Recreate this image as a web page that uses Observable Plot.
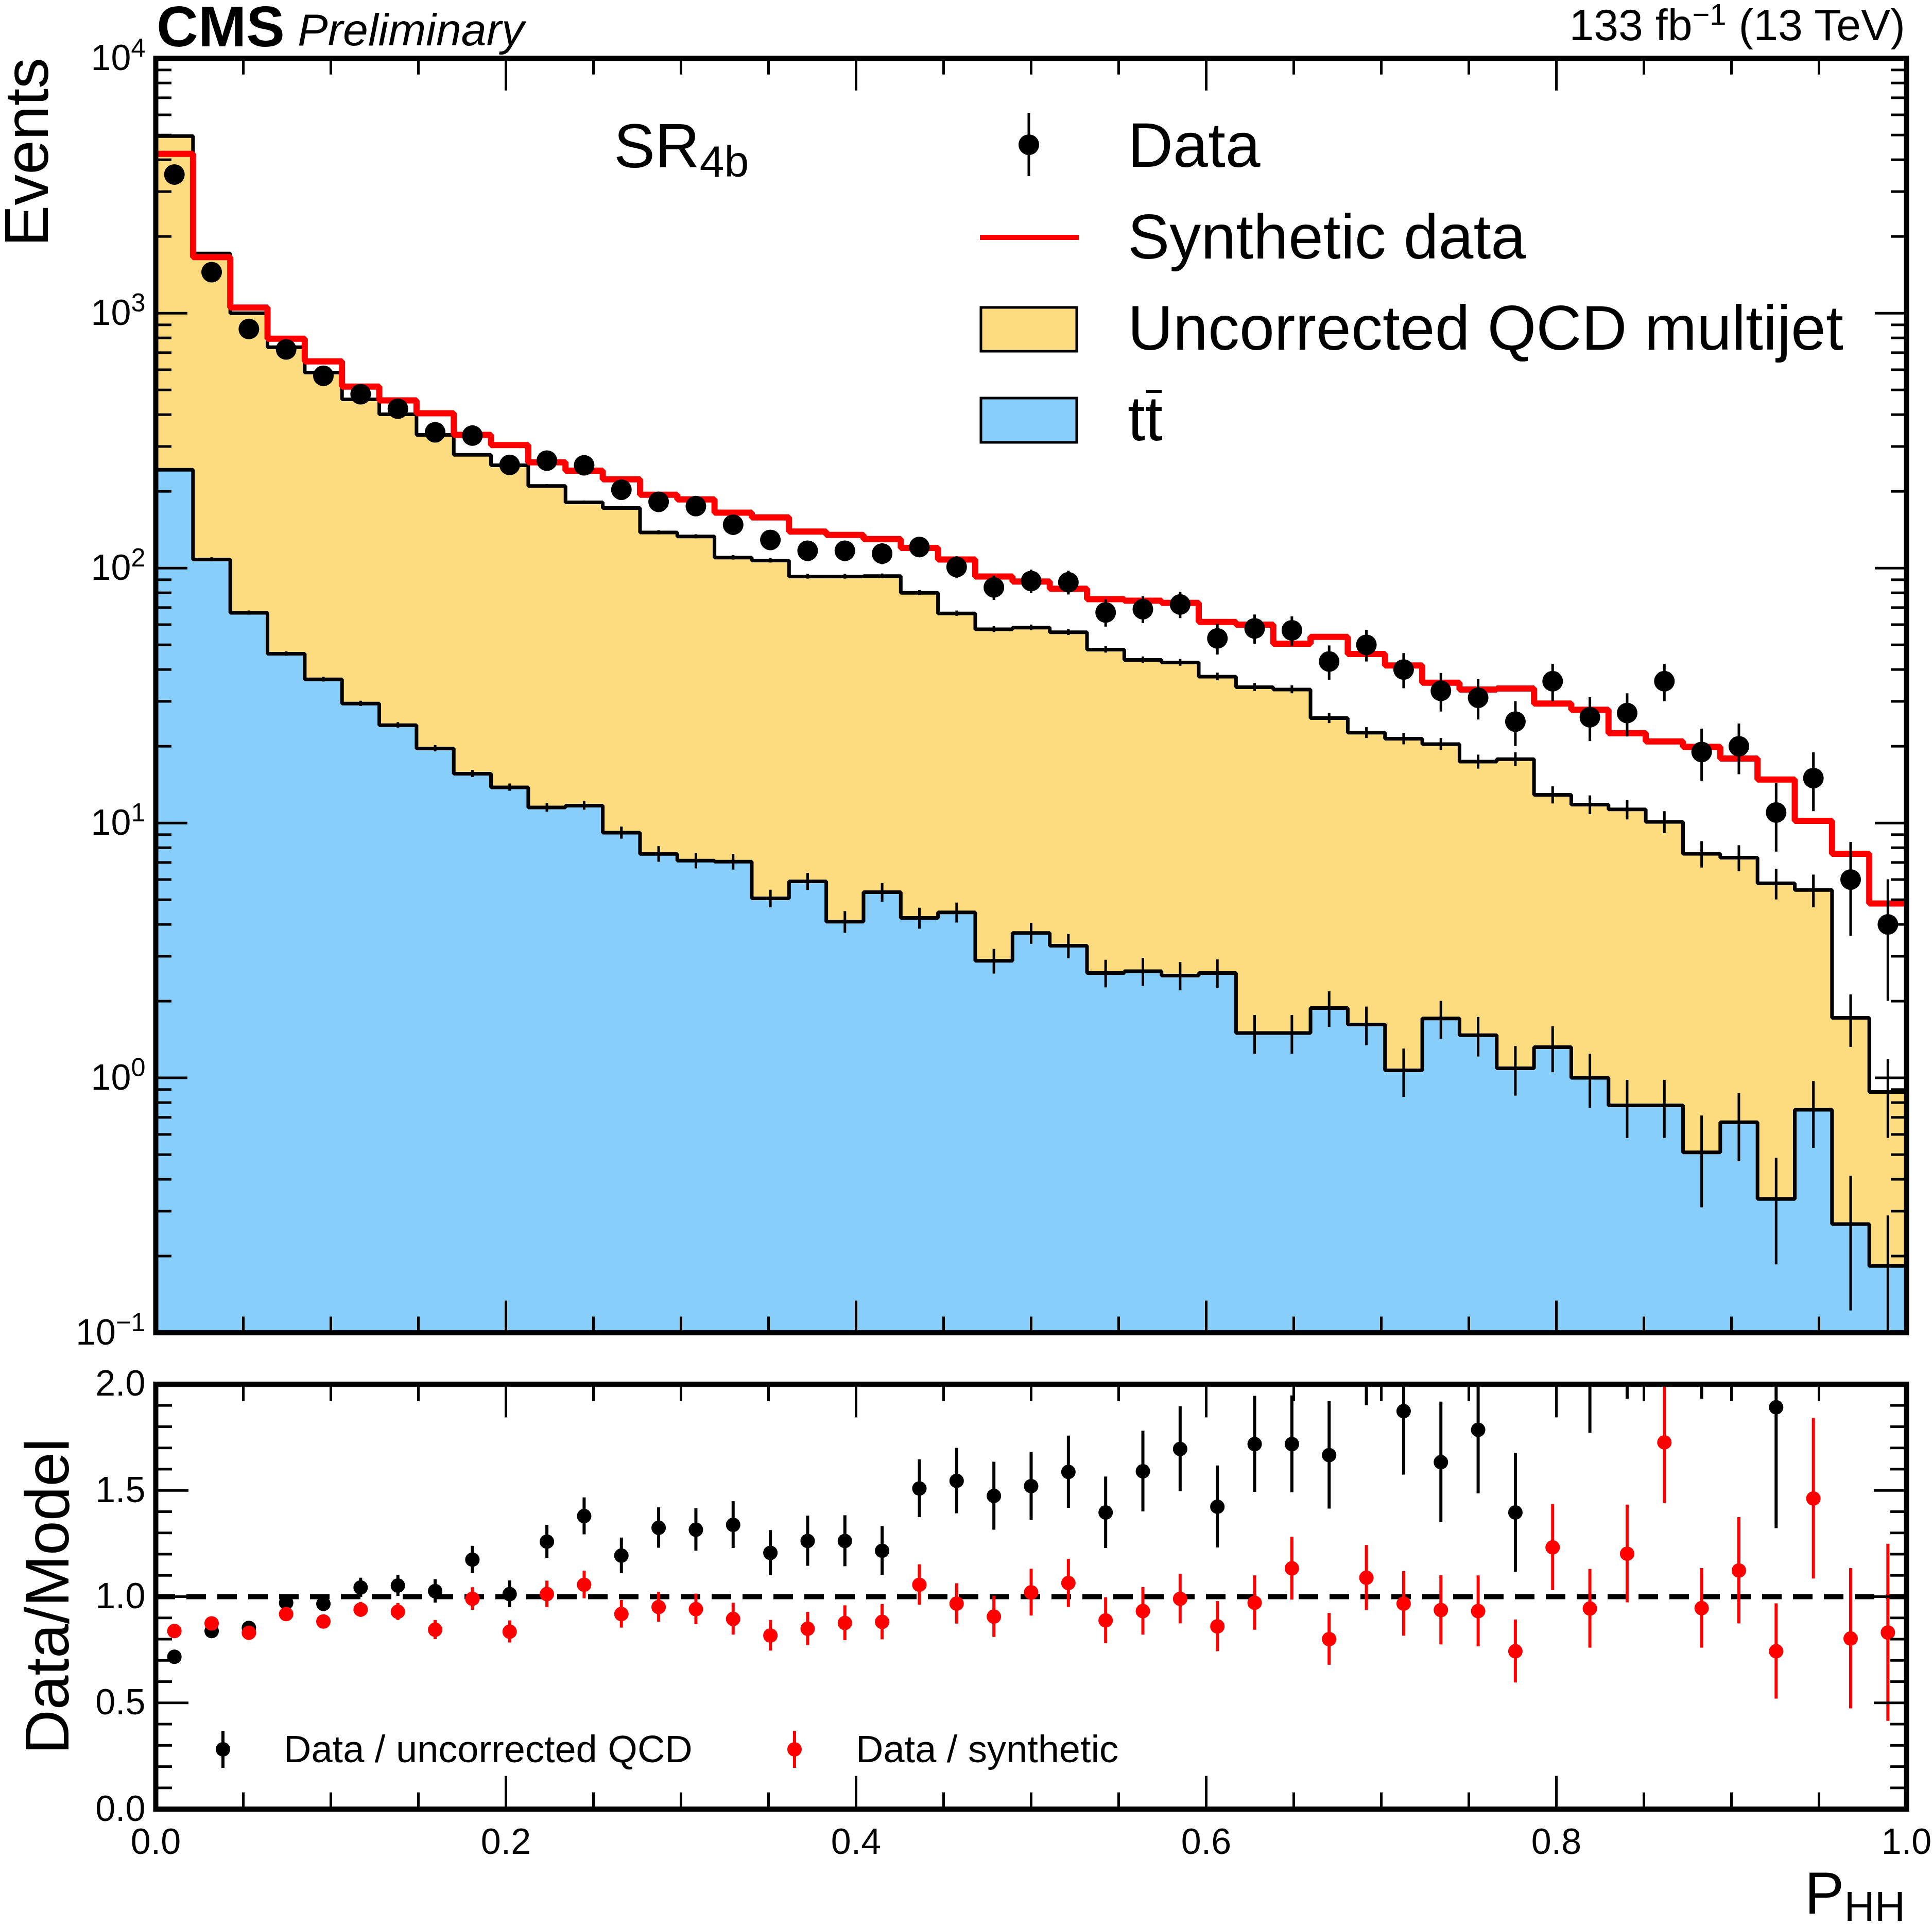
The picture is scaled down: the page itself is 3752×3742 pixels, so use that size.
<!DOCTYPE html>
<html><head><meta charset="utf-8">
<script src="https://cdn.jsdelivr.net/npm/d3@7"></script>
<script src="https://cdn.jsdelivr.net/npm/@observablehq/plot@0.6"></script>
<style>
html,body{margin:0;padding:0;background:#fff;}
#fig{position:relative;width:3752px;height:3742px;background:#fff;overflow:hidden;}
#fig svg{position:absolute;left:0;}
</style></head><body><div id="fig"></div>
<script>
// ---------------- DATA (47 uniform bins in P_HH from 0 to 1) ----------------
const dataCounts = [3500,1449,867,721,568,481,422,341,331,254,264,253,203,182,175,148,129,117,117,114,121,101,84,89,88,67,69,72,53,58,57,43,50,40,33,31,25,36,26,27,36,19,20,11,15,6,4];
const dataErr = [59.2,38.1,29.4,26.9,23.8,21.9,20.5,18.5,18.2,15.9,16.2,15.9,14.2,13.5,13.2,12.2,11.4,10.8,10.8,10.7,11.0,10.0,9.2,9.4,9.4,8.2,8.3,8.5,7.3,7.6,7.5,6.6,7.1,6.3,5.7,5.6,5.0,6.0,5.1,5.2,6.0,4.4,4.5,3.3,3.9,2.4,2.0];
// stack total: uncorrected QCD multijet + ttbar
const qcdTotal = [4955,1714,1000,735,585,459,401,333,278,253,210,181,172,138,133,110,107,92.7,92.7,93,80,66.4,57.5,58.4,56,47.9,43.6,42.6,37.5,34.1,33.4,25.8,22.6,21.4,20.4,17.4,17.8,12.9,11.8,11.3,10.1,7.57,7.31,5.8,5.46,1.72,0.88];
const qcdTotalErr = [40,15,8,6,5,4,3.5,3,2.5,2.3,3,2.8,2.7,2.5,2.4,2.2,2.1,2,2,2,1.8,1.6,1.5,1.5,1.5,1.4,1.3,1.3,1.3,1.2,1.2,1.2,1.1,1.1,1.1,1.1,1.1,1.0,1.0,1.0,1.0,0.9,0.85,0.8,0.8,0.4,0.3];
const synthetic = [4217,1659,1052,794,647,515,455,405,333,304,260,241,223,194,186,165,158,139,135,130,120,108,92.7,88.6,83,75.5,74.5,73,61.5,60,50.5,53.7,46,41.5,35.5,33.4,33.7,29.4,27.8,22.5,20.9,19.9,17.9,14.8,10.2,7.57,4.83];
const ttbar = [243,108,66.8,46.1,36.6,29.4,24.2,19.6,15.6,13.8,11.5,11.7,9.16,7.56,7.12,7.05,5.06,5.9,4.1,5.35,4.24,4.46,2.88,3.70,3.30,2.58,2.62,2.52,2.58,1.50,1.50,1.88,1.62,1.07,1.71,1.47,1.09,1.32,1.0,0.78,0.78,0.51,0.67,0.335,0.75,0.267,0.183];
const ttbarErr = [3,2,1.2,0.9,0.8,0.7,0.6,0.55,0.5,0.45,0.45,0.45,0.5,0.53,0.5,0.5,0.4,0.45,0.4,0.45,0.4,0.4,0.32,0.35,0.36,0.32,0.33,0.32,0.33,0.26,0.26,0.3,0.28,0.23,0.29,0.26,0.24,0.27,0.24,0.2,0.2,0.2,0.2,0.15,0.22,0.145,0.105];
// ratio panel
const ratioQCD = [0.717,0.838,0.853,0.971,0.966,1.043,1.052,1.026,1.174,1.012,1.259,1.379,1.193,1.324,1.315,1.338,1.206,1.262,1.262,1.216,1.509,1.545,1.474,1.520,1.587,1.396,1.590,1.695,1.423,1.718,1.718,1.666,2.21,1.873,1.633,1.785,1.396,2.78,2.2,2.36,3.5,2.51,2.7,1.891,2.75,3.5,4.5];
const ratioQCDErr = [0.015,0.02,0.025,0.03,0.035,0.045,0.05,0.055,0.064,0.063,0.078,0.087,0.084,0.095,0.1,0.11,0.106,0.118,0.12,0.115,0.136,0.154,0.16,0.16,0.17,0.168,0.19,0.2,0.193,0.226,0.228,0.253,0.31,0.3,0.284,0.3,0.28,0.47,0.43,0.43,0.6,0.58,0.6,0.57,0.7,1.4,2.3];
const ratioSyn = [0.838,0.874,0.830,0.918,0.883,0.939,0.929,0.844,0.990,0.835,1.012,1.056,0.918,0.951,0.941,0.895,0.817,0.849,0.876,0.881,1.056,0.967,0.906,1.020,1.064,0.888,0.932,0.990,0.860,0.971,1.133,0.800,1.089,0.967,0.937,0.932,0.743,1.232,0.944,1.202,1.726,0.946,1.123,0.743,1.462,0.803,0.831];
const ratioSynErr = [0.015,0.02,0.02,0.025,0.03,0.035,0.04,0.045,0.053,0.052,0.062,0.065,0.065,0.07,0.072,0.075,0.072,0.078,0.082,0.083,0.095,0.095,0.097,0.11,0.113,0.108,0.112,0.117,0.118,0.128,0.148,0.122,0.153,0.152,0.163,0.167,0.148,0.203,0.185,0.23,0.287,0.187,0.25,0.224,0.378,0.33,0.417];
// tick labels
const xMajor = [0, 0.2, 0.4, 0.6, 0.8, 1.0];
const xMinor = [0.05,0.1,0.15,0.25,0.3,0.35,0.45,0.5,0.55,0.65,0.7,0.75,0.85,0.9,0.95];
const logMajor = [0.1, 1, 10, 100, 1000, 10000];
const rMajor = [0, 0.5, 1.0, 1.5, 2.0];
const rMinor = [0.1,0.2,0.3,0.4,0.6,0.7,0.8,0.9,1.1,1.2,1.3,1.4,1.6,1.7,1.8,1.9];

// ---------------- BUILD ----------------
const W = 3752, H = 3742;
const FONT = '"Liberation Sans", Arial, Helvetica, sans-serif';
const BLUE = "#87cefa", YELLOW = "#fddc80", RED = "#ff0000";
const n = dataCounts.length;
const logMinor = [];
for (const dec of [0.1, 1, 10, 100, 1000]) for (let m = 2; m <= 9; m++) logMinor.push(+(m * dec).toPrecision(3));

const bins = dataCounts.map((d, i) => ({
  lo: i / n, mid: (i + 0.5) / n,
  data: d, dataErr: dataErr[i],
  total: qcdTotal[i], totalErr: qcdTotalErr[i],
  synth: synthetic[i], tt: ttbar[i], ttErr: ttbarErr[i],
  rQ: ratioQCD[i], rQe: ratioQCDErr[i], rS: ratioSyn[i], rSe: ratioSynErr[i]
}));
const edgePts = bins.map(b => ({x: b.lo, tt: b.tt, total: b.total, synth: b.synth}));
edgePts.push({x: 1, tt: ttbar[n - 1], total: qcdTotal[n - 1], synth: synthetic[n - 1]});

const YMIN = 0.1, YMAX = 1e4;
const tickW = 5;
const fmtLog = d => "10^" + String(Math.round(Math.log10(d))).replace("-", "\u2212");

const MAIN_H = 2640;
const main = Plot.plot({
  width: W, height: MAIN_H,
  marginLeft: 302, marginRight: 50, marginTop: 112.7, marginBottom: MAIN_H - 2587.6,
  x: {domain: [0, 1], axis: null},
  y: {type: "log", domain: [YMIN, YMAX], axis: null},
  style: {fontFamily: FONT, fontSize: "70px", color: "black", background: "transparent", overflow: "visible"},
  marks: [
    Plot.areaY(edgePts, {x: "x", y1: YMIN, y2: "tt", curve: "step-after", fill: BLUE}),
    Plot.areaY(edgePts, {x: "x", y1: "tt", y2: "total", curve: "step-after", fill: YELLOW}),
    Plot.line(edgePts, {x: "x", y: "tt", curve: "step-after", stroke: "black", strokeWidth: 7, strokeLinejoin: "miter", clip: true}),
    Plot.line(edgePts, {x: "x", y: "total", curve: "step-after", stroke: "black", strokeWidth: 7, strokeLinejoin: "miter", clip: true}),
    Plot.ruleX(bins, {x: "mid", y1: d => d.tt - d.ttErr, y2: d => d.tt + d.ttErr, stroke: "black", strokeWidth: 5, clip: true}),
    Plot.ruleX(bins, {x: "mid", y1: d => d.total - d.totalErr, y2: d => d.total + d.totalErr, stroke: "black", strokeWidth: 5, clip: true}),
    Plot.line(edgePts, {x: "x", y: "synth", curve: "step-after", stroke: RED, strokeWidth: 12, strokeLinejoin: "miter", clip: true}),
    Plot.ruleX(bins, {x: "mid", y1: d => d.data - d.dataErr, y2: d => d.data + d.dataErr, stroke: "black", strokeWidth: 5, clip: true}),
    Plot.dot(bins, {x: "mid", y: "data", r: 20, fill: "black", stroke: "none"}),
    // inward ticks
    Plot.axisX(xMajor, {anchor: "bottom", tickSize: -62, fill: "none", stroke: "black", strokeWidth: tickW, label: null}),
    Plot.axisX(xMinor, {anchor: "bottom", tickSize: -31, fill: "none", stroke: "black", strokeWidth: tickW, label: null}),
    Plot.axisX(xMajor, {anchor: "top", tickSize: -62, fill: "none", stroke: "black", strokeWidth: tickW, label: null}),
    Plot.axisX(xMinor, {anchor: "top", tickSize: -31, fill: "none", stroke: "black", strokeWidth: tickW, label: null}),
    Plot.axisY(logMajor, {anchor: "left", tickSize: -62, fill: "none", stroke: "black", strokeWidth: tickW, label: null}),
    Plot.axisY(logMinor, {anchor: "left", tickSize: -31, fill: "none", stroke: "black", strokeWidth: tickW, label: null}),
    Plot.axisY(logMajor, {anchor: "right", tickSize: -62, fill: "none", stroke: "black", strokeWidth: tickW, label: null}),
    Plot.axisY(logMinor, {anchor: "right", tickSize: -31, fill: "none", stroke: "black", strokeWidth: tickW, label: null}),
    Plot.axisY(logMajor, {anchor: "left", tickSize: 0, tickPadding: 20, tickFormat: fmtLog, fontSize: 70, fill: "black", label: null}),
    Plot.frame({stroke: "black", strokeWidth: 10})
  ]
});
main.style.top = "0px";
// superscripts for 10^k labels
d3.select(main).selectAll('g[aria-label="y-axis tick label"] text').each(function () {
  const t = this.textContent;
  const m = t.match(/^10\^(.+)$/);
  if (m) {
    const s = d3.select(this);
    s.text("");
    s.append("tspan").text("10");
    s.append("tspan").attr("dy", "-0.5em").attr("font-size", "0.72em").text(m[1]);
  }
});

const RTOP = 2620, RH = H - RTOP;
const ratio = Plot.plot({
  width: W, height: RH,
  marginLeft: 302, marginRight: 50, marginTop: 2687.4 - RTOP, marginBottom: H - 3512.6,
  x: {domain: [0, 1], axis: null},
  y: {domain: [0, 2], axis: null},
  style: {fontFamily: FONT, fontSize: "70px", color: "black", background: "transparent", overflow: "visible"},
  marks: [
    Plot.ruleY([1], {stroke: "black", strokeWidth: 10, strokeDasharray: "38,22"}),
    Plot.ruleX(bins, {x: "mid", y1: d => d.rQ - d.rQe, y2: d => d.rQ + d.rQe, stroke: "black", strokeWidth: 6, clip: true}),
    Plot.dot(bins, {x: "mid", y: "rQ", r: 14, fill: "black", stroke: "none", clip: true}),
    Plot.ruleX(bins, {x: "mid", y1: d => d.rS - d.rSe, y2: d => d.rS + d.rSe, stroke: RED, strokeWidth: 6, clip: true}),
    Plot.dot(bins, {x: "mid", y: "rS", r: 14, fill: RED, stroke: "none", clip: true}),
    Plot.axisX(xMajor, {anchor: "bottom", tickSize: -64, fill: "none", stroke: "black", strokeWidth: tickW, label: null}),
    Plot.axisX(xMinor, {anchor: "bottom", tickSize: -32, fill: "none", stroke: "black", strokeWidth: tickW, label: null}),
    Plot.axisX(xMajor, {anchor: "top", tickSize: -64, fill: "none", stroke: "black", strokeWidth: tickW, label: null}),
    Plot.axisX(xMinor, {anchor: "top", tickSize: -32, fill: "none", stroke: "black", strokeWidth: tickW, label: null}),
    Plot.axisY(rMajor, {anchor: "left", tickSize: -64, fill: "none", stroke: "black", strokeWidth: tickW, label: null}),
    Plot.axisY(rMinor, {anchor: "left", tickSize: -32, fill: "none", stroke: "black", strokeWidth: tickW, label: null}),
    Plot.axisY(rMajor, {anchor: "right", tickSize: -64, fill: "none", stroke: "black", strokeWidth: tickW, label: null}),
    Plot.axisY(rMinor, {anchor: "right", tickSize: -32, fill: "none", stroke: "black", strokeWidth: tickW, label: null}),
    Plot.axisY(rMajor, {anchor: "left", tickSize: 0, tickPadding: 20, tickFormat: d3.format(".1f"), fontSize: 70, fill: "black", label: null}),
    Plot.axisX(xMajor, {anchor: "bottom", tickSize: 0, tickPadding: 37, tickFormat: d3.format(".1f"), fontSize: 70, fill: "black", label: null}),
    Plot.frame({stroke: "black", strokeWidth: 10})
  ]
});
ratio.style.top = RTOP + "px";

// ---------------- TEXT / LEGENDS overlay ----------------
const ov = d3.create("svg").attr("width", W).attr("height", H)
  .attr("font-family", FONT).style("top", "0px").style("left", "0px");
function t(x, y, size, str, attrs = {}) {
  const e = ov.append("text").attr("x", x).attr("y", y).attr("font-size", size).attr("fill", "black");
  for (const k in attrs) e.attr(k, attrs[k]);
  if (str != null) e.text(str);
  return e;
}
t(304, 90, 112, "CMS", {"font-weight": "bold"});
t(578, 88, 88, "Preliminary", {"font-style": "italic"});
const lumi = t(3700, 78, 86, null, {"text-anchor": "end"});
lumi.append("tspan").text("133 fb");
lumi.append("tspan").attr("font-size", 58).attr("dy", -30).text("\u22121");
lumi.append("tspan").attr("dy", 30).text(" (13 TeV)");
ov.append("text").attr("transform", "translate(93,112) rotate(-90)").attr("text-anchor", "end").attr("font-size", 120).text("Events");
ov.append("text").attr("transform", "translate(133,3100) rotate(-90)").attr("text-anchor", "middle").attr("font-size", 120).text("Data/Model");
const xl = t(3700, 3716, 115, null, {"text-anchor": "end"});
xl.append("tspan").text("P");
xl.append("tspan").attr("font-size", 82).attr("dy", 14).text("HH");
const sr = t(1192, 325, 120, null);
sr.append("tspan").text("SR");
sr.append("tspan").attr("font-size", 86).attr("dy", 18).text("4b");

// main legend
const LX = 2190;
ov.append("line").attr("x1", 1998).attr("x2", 1998).attr("y1", 219).attr("y2", 342).attr("stroke", "black").attr("stroke-width", 5);
ov.append("circle").attr("cx", 1998).attr("cy", 281).attr("r", 20).attr("fill", "black");
t(LX, 324, 122, "Data");
ov.append("line").attr("x1", 1903).attr("x2", 2095).attr("y1", 461).attr("y2", 461).attr("stroke", RED).attr("stroke-width", 10);
t(LX, 502, 122, "Synthetic data");
ov.append("rect").attr("x", 1905).attr("y", 597).attr("width", 186).attr("height", 85).attr("fill", YELLOW).attr("stroke", "black").attr("stroke-width", 5);
t(LX, 679, 122, "Uncorrected QCD multijet");
ov.append("rect").attr("x", 1905).attr("y", 773).attr("width", 186).attr("height", 86).attr("fill", BLUE).attr("stroke", "black").attr("stroke-width", 5);
t(LX, 855, 122, "tt");
// bar over the second t (t-bar)
ov.append("line").attr("x1", LX + 36).attr("x2", LX + 66).attr("y1", 760).attr("y2", 760).attr("stroke", "black").attr("stroke-width", 6);

// ratio legend
ov.append("line").attr("x1", 433).attr("x2", 433).attr("y1", 3361).attr("y2", 3433).attr("stroke", "black").attr("stroke-width", 6);
ov.append("circle").attr("cx", 433).attr("cy", 3397).attr("r", 14).attr("fill", "black");
t(551, 3422, 74, "Data / uncorrected QCD");
ov.append("line").attr("x1", 1543).attr("x2", 1543).attr("y1", 3361).attr("y2", 3433).attr("stroke", RED).attr("stroke-width", 6);
ov.append("circle").attr("cx", 1543).attr("cy", 3397).attr("r", 14).attr("fill", RED);
t(1662, 3422, 74, "Data / synthetic");

const fig = document.getElementById("fig");
fig.appendChild(main);
fig.appendChild(ratio);
fig.appendChild(ov.node());
</script>
</body></html>
